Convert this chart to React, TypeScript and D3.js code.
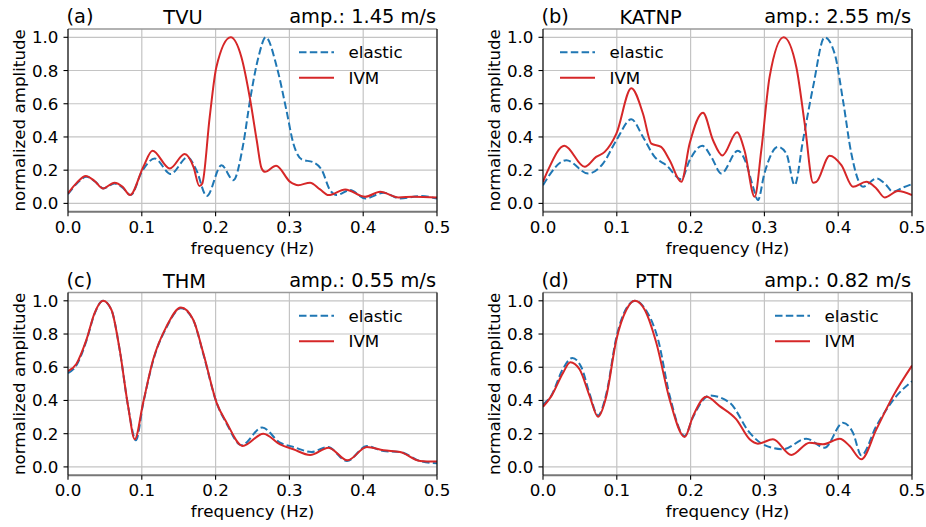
import React from "react";
import * as d3 from "d3";

type P = [number, number];

// ---- data: [frequency (Hz), normalized amplitude] ----
const tvuElastic: P[] = [
  [0, 0.055], [0.012, 0.12], [0.025, 0.16], [0.037, 0.13], [0.048, 0.09], [0.063, 0.12], [0.074, 0.095], [0.085, 0.05],
  [0.1, 0.19], [0.1176, 0.27], [0.139, 0.177], [0.162, 0.278], [0.174, 0.2], [0.188, 0.044], [0.208, 0.23],
  [0.224, 0.14], [0.2376, 0.36], [0.2466, 0.62], [0.258, 0.88], [0.268, 1.0], [0.283, 0.82], [0.296, 0.56],
  [0.3054, 0.36], [0.3167, 0.265], [0.3326, 0.247], [0.344, 0.2], [0.355, 0.08], [0.364, 0.05], [0.382, 0.08],
  [0.403, 0.03], [0.4276, 0.064], [0.45, 0.03], [0.477, 0.044], [0.5, 0.03],
];
const tvuIvm: P[] = [
  [0, 0.06], [0.012, 0.125], [0.024, 0.165], [0.036, 0.135], [0.0475, 0.09], [0.063, 0.125], [0.074, 0.1], [0.084, 0.05],
  [0.102, 0.22], [0.1145, 0.317], [0.138, 0.21], [0.158, 0.297], [0.17, 0.22], [0.178, 0.104], [0.182, 0.12],
  [0.192, 0.52], [0.201, 0.82], [0.2205, 1.0], [0.235, 0.88], [0.247, 0.62], [0.2557, 0.38], [0.2624, 0.21],
  [0.267, 0.19], [0.282, 0.227], [0.301, 0.13], [0.312, 0.11], [0.328, 0.125], [0.3416, 0.084], [0.353, 0.05],
  [0.3756, 0.084], [0.4027, 0.04], [0.423, 0.07], [0.448, 0.036], [0.468, 0.04], [0.5, 0.036],
];
const katnpElastic: P[] = [
  [0, 0.11], [0.0316, 0.26], [0.061, 0.18], [0.0813, 0.24], [0.0994, 0.38], [0.1197, 0.506], [0.1355, 0.4],
  [0.1513, 0.28], [0.167, 0.23], [0.1874, 0.145], [0.1987, 0.26], [0.2159, 0.347], [0.228, 0.28], [0.2416, 0.18],
  [0.264, 0.317], [0.2755, 0.24], [0.2846, 0.1], [0.2913, 0.02], [0.3, 0.18], [0.3184, 0.34], [0.3297, 0.3],
  [0.341, 0.11], [0.3523, 0.38], [0.3659, 0.7], [0.3817, 1.0], [0.3953, 0.9], [0.4065, 0.62], [0.4178, 0.3],
  [0.4336, 0.1], [0.4517, 0.15], [0.463, 0.12], [0.4743, 0.07], [0.4878, 0.096], [0.5, 0.116],
];
const katnpIvm: P[] = [
  [0, 0.13], [0.0068, 0.2], [0.029, 0.347], [0.0565, 0.22], [0.072, 0.28], [0.0836, 0.31], [0.0994, 0.42],
  [0.1197, 0.693], [0.1355, 0.54], [0.1468, 0.36], [0.16, 0.34], [0.1716, 0.26], [0.1874, 0.13], [0.1987, 0.36],
  [0.2168, 0.546], [0.2304, 0.38], [0.243, 0.289], [0.2629, 0.428], [0.273, 0.32], [0.2868, 0.04], [0.2958, 0.32],
  [0.307, 0.76], [0.3261, 1.0], [0.3433, 0.82], [0.3546, 0.48], [0.366, 0.125], [0.3704, 0.13], [0.3884, 0.287],
  [0.4043, 0.23], [0.42, 0.1], [0.438, 0.13], [0.4517, 0.09], [0.463, 0.036], [0.481, 0.074], [0.5, 0.05],
];
const thmElastic: P[] = [
  [0, 0.565], [0.0113, 0.61], [0.025, 0.76], [0.036, 0.922], [0.0475, 1.0], [0.0588, 0.946], [0.07, 0.706],
  [0.0814, 0.366], [0.092, 0.16], [0.1018, 0.38], [0.1154, 0.64], [0.1335, 0.84], [0.153, 0.955], [0.1697, 0.884],
  [0.1833, 0.68], [0.2014, 0.386], [0.215, 0.26], [0.235, 0.13], [0.263, 0.237], [0.2873, 0.146], [0.3054, 0.12],
  [0.33, 0.09], [0.352, 0.12], [0.378, 0.035], [0.405, 0.126], [0.4276, 0.095], [0.45, 0.09], [0.477, 0.035], [0.5, 0.022],
];
const thmIvm: P[] = [
  [0, 0.576], [0.0113, 0.62], [0.025, 0.766], [0.036, 0.926], [0.0475, 1.0], [0.0588, 0.946], [0.07, 0.706],
  [0.0814, 0.366], [0.0905, 0.166], [0.1018, 0.386], [0.1154, 0.646], [0.1335, 0.846], [0.153, 0.96], [0.1697, 0.886],
  [0.1833, 0.686], [0.2014, 0.386], [0.215, 0.266], [0.2367, 0.126], [0.2647, 0.2], [0.2873, 0.136], [0.3054, 0.106],
  [0.328, 0.072], [0.353, 0.116], [0.3787, 0.04], [0.405, 0.12], [0.4276, 0.1], [0.45, 0.09], [0.477, 0.036], [0.5, 0.032],
];
const ptnElastic: P[] = [
  [0, 0.376], [0.0113, 0.43], [0.027, 0.59], [0.0397, 0.656], [0.052, 0.6], [0.0632, 0.44], [0.0745, 0.31],
  [0.0858, 0.44], [0.0994, 0.78], [0.113, 0.955], [0.125, 1.0], [0.14, 0.94], [0.156, 0.766], [0.1716, 0.43],
  [0.192, 0.186], [0.2033, 0.3], [0.2258, 0.43], [0.253, 0.386], [0.28, 0.206], [0.298, 0.136], [0.3252, 0.106],
  [0.3568, 0.17], [0.3817, 0.116], [0.4065, 0.266], [0.42, 0.206], [0.4313, 0.07], [0.4517, 0.246], [0.4788, 0.426], [0.5, 0.516],
];
const ptnIvm: P[] = [
  [0, 0.362], [0.0113, 0.426], [0.0271, 0.566], [0.037, 0.63], [0.0497, 0.586], [0.0632, 0.426], [0.0745, 0.302],
  [0.0858, 0.426], [0.0994, 0.766], [0.113, 0.946], [0.1242, 1.0], [0.1378, 0.946], [0.1536, 0.746], [0.1716, 0.406],
  [0.192, 0.18], [0.2033, 0.306], [0.2213, 0.422], [0.2394, 0.366], [0.262, 0.286], [0.28, 0.166], [0.2913, 0.14],
  [0.3116, 0.166], [0.3365, 0.072], [0.3613, 0.146], [0.3794, 0.136], [0.402, 0.17], [0.4155, 0.126], [0.4313, 0.046],
  [0.4517, 0.226], [0.4743, 0.426], [0.5, 0.61],
];

const panelLabels = ["(a)", "(b)", "(c)", "(d)"];
const stationNames = ["TVU", "KATNP", "THM", "PTN"];
const ampTexts = ["amp.: 1.45 m/s", "amp.: 2.55 m/s", "amp.: 0.55 m/s", "amp.: 0.82 m/s"];
const xTicks = [0, 0.1, 0.2, 0.3, 0.4, 0.5];
const yTicks = [0, 0.2, 0.4, 0.6, 0.8, 1.0];
const seriesNames = ["elastic", "IVM"];

const elasticSeries = [tvuElastic, katnpElastic, thmElastic, ptnElastic];
const ivmSeries = [tvuIvm, katnpIvm, thmIvm, ptnIvm];

// ---- layout ----
const W = 926, H = 527;
const PW = 369, PH = 182.7;
const origins: [number, number][] = [[68, 29], [543, 29], [68, 292.5], [543, 292.5]];
const titleXs = [183, 650.5, 184.5, 654];
const legendXs = [231, 17, 231, 232];

const BLUE = "#1f77b4";
const RED = "#d62728";
const FONT = "DejaVu Sans, sans-serif";

function Panel({ i }: { i: number }) {
  const [x0, y0] = origins[i];
  const x = d3.scaleLinear().domain([0, 0.5]).range([x0, x0 + PW]);
  const y = d3.scaleLinear().domain([-0.05, 1.05]).range([y0 + PH, y0]);
  const line = d3
    .line<P>()
    .x((d) => x(d[0]))
    .y((d) => y(d[1]))
    .curve(d3.curveMonotoneX);
  const bottom = y0 + PH;
  const lx = x0 + legendXs[i];
  const ly1 = y0 + 23.3;
  const ly2 = y0 + 48.8;
  return (
    <g>
      <defs>
        <clipPath id={`clip${i}`}>
          <rect x={x0} y={y0} width={PW} height={PH} />
        </clipPath>
      </defs>
      {/* grid */}
      {xTicks.map((t) => (
        <line key={"gx" + t} x1={x(t)} x2={x(t)} y1={y0} y2={bottom} stroke="#c4c4c4" strokeWidth={1.2} />
      ))}
      {yTicks.map((t) => (
        <line key={"gy" + t} x1={x0} x2={x0 + PW} y1={y(t)} y2={y(t)} stroke="#c4c4c4" strokeWidth={1.2} />
      ))}
      {/* curves */}
      <g clipPath={`url(#clip${i})`}>
        <path d={line(elasticSeries[i]) || ""} fill="none" stroke={BLUE} strokeWidth={2} strokeDasharray="7.5,3.3" />
        <path d={line(ivmSeries[i]) || ""} fill="none" stroke={RED} strokeWidth={2} />
      </g>
      {/* spines */}
      <line x1={x0} x2={x0 + PW} y1={y0} y2={y0} stroke="#999" strokeWidth={1.5} />
      <line x1={x0} x2={x0 + PW} y1={bottom} y2={bottom} stroke="#777" strokeWidth={2} />
      <line x1={x0} x2={x0} y1={y0} y2={bottom} stroke="#000" strokeWidth={1.1} />
      <line x1={x0 + PW} x2={x0 + PW} y1={y0} y2={bottom} stroke="#000" strokeWidth={1.1} />
      {/* ticks */}
      {xTicks.map((t) => (
        <g key={"tx" + t}>
          <line x1={x(t)} x2={x(t)} y1={bottom} y2={bottom + 4.5} stroke="#000" strokeWidth={1.1} />
          <text x={x(t)} y={bottom + 21} textAnchor="middle" fontSize={16.7} fontFamily={FONT} fill="#000">
            {d3.format(".1f")(t)}
          </text>
        </g>
      ))}
      {yTicks.map((t) => (
        <g key={"ty" + t}>
          <line x1={x0 - 4.5} x2={x0} y1={y(t)} y2={y(t)} stroke="#000" strokeWidth={1.1} />
          <text x={x0 - 9.5} y={y(t) + 6} textAnchor="end" fontSize={16.7} fontFamily={FONT} fill="#000">
            {d3.format(".1f")(t)}
          </text>
        </g>
      ))}
      {/* axis labels */}
      <text x={x0 + PW / 2} y={bottom + 41.8} textAnchor="middle" fontSize={16.7} fontFamily={FONT} fill="#000">
        frequency (Hz)
      </text>
      <text
        transform={`translate(${x0 - 43},${y0 + PH / 2}) rotate(-90)`}
        textAnchor="middle"
        fontSize={16.7}
        fontFamily={FONT}
        fill="#000"
      >
        normalized amplitude
      </text>
      {/* titles */}
      <text x={x0 - 1.5} y={y0 - 6} fontSize={19.4} fontFamily={FONT} fill="#000">
        {panelLabels[i]}
      </text>
      <text x={titleXs[i]} y={y0 - 5} textAnchor="middle" fontSize={19.4} fontFamily={FONT} fill="#000">
        {stationNames[i]}
      </text>
      <text x={x0 + PW - 1} y={y0 - 6} textAnchor="end" fontSize={19.4} fontFamily={FONT} fill="#000">
        {ampTexts[i]}
      </text>
      {/* legend */}
      <line x1={lx} x2={lx + 35} y1={ly1} y2={ly1} stroke={BLUE} strokeWidth={2} strokeDasharray="7.5,3.3" />
      <text x={lx + 49.5} y={ly1 + 6} fontSize={16.7} fontFamily={FONT} fill="#000">
        {seriesNames[0]}
      </text>
      <line x1={lx} x2={lx + 35} y1={ly2} y2={ly2} stroke={RED} strokeWidth={2} />
      <text x={lx + 49.5} y={ly2 + 6} fontSize={16.7} fontFamily={FONT} fill="#000">
        {seriesNames[1]}
      </text>
    </g>
  );
}

export default function App() {
  return (
    <svg
      width={W}
      height={H}
      viewBox={`0 0 ${W} ${H}`}
      style={{ position: "absolute", left: 0, top: 0, background: "#fff" }}
    >
      <rect x={0} y={0} width={W} height={H} fill="#fff" />
      {[0, 1, 2, 3].map((i) => (
        <Panel key={i} i={i} />
      ))}
    </svg>
  );
}
